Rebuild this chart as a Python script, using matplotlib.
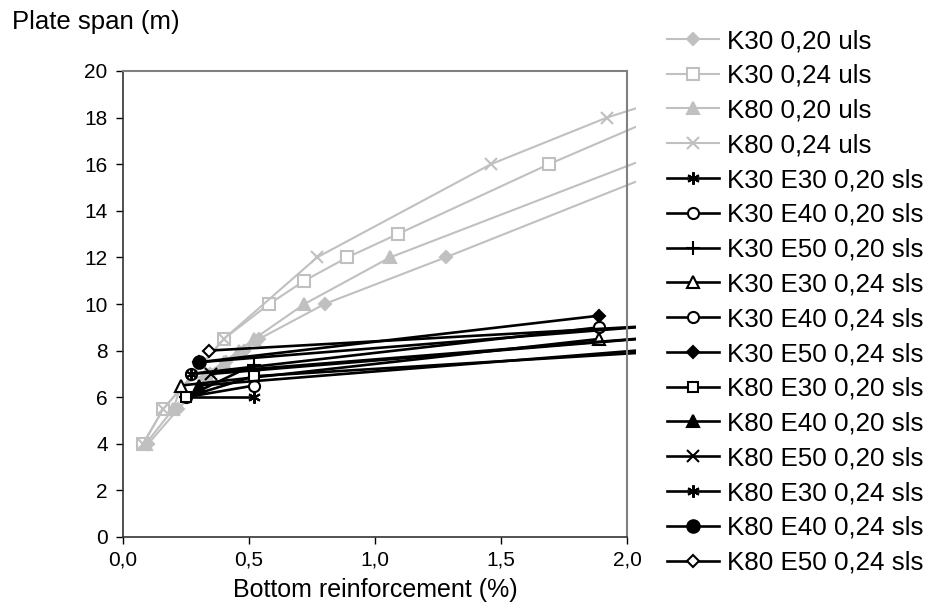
import numpy as np
import matplotlib
matplotlib.use("Agg")
import matplotlib.pyplot as plt
from matplotlib.ticker import FuncFormatter, MultipleLocator
from matplotlib.transforms import Bbox, TransformedBbox

plt.rcParams['font.family'] = ['Liberation Sans', 'DejaVu Sans']

# ultimate limit state curves (grey), last point lies past the x-axis end
k30_020_uls_x = [0.10, 0.22, 0.345, 0.41, 0.48, 0.54, 0.80, 1.28, 2.50]
k30_020_uls_y = [4.0, 5.5, 7.0, 7.5, 8.0, 8.5, 10.0, 12.0, 17.25]
k30_024_uls_x = [0.08, 0.16, 0.40, 0.58, 0.72, 0.89, 1.09, 1.69, 2.40]
k30_024_uls_y = [4.0, 5.5, 8.5, 10.0, 11.0, 12.0, 13.0, 16.0, 19.3]
k80_020_uls_x = [0.09, 0.20, 0.23, 0.33, 0.40, 0.46, 0.52, 0.72, 1.06, 2.50]
k80_020_uls_y = [4.0, 5.5, 6.5, 7.0, 7.5, 8.0, 8.5, 10.0, 12.0, 18.0]
k80_024_uls_x = [0.08, 0.16, 0.40, 0.77, 1.46, 1.92, 2.50]
k80_024_uls_y = [4.0, 5.5, 8.5, 12.0, 16.0, 18.0, 20.0]

# serviceability limit state curves (black)
k30e30_020_x = [0.25, 0.52]
k30e30_020_y = [6.0, 6.0]
k30e40_020_x = [0.25, 0.52]
k30e40_020_y = [6.0, 6.5]
k30e50_020_x = [0.25, 0.52]
k30e50_020_y = [6.0, 7.4]
k30e30_024_x = [0.23, 1.89]
k30e30_024_y = [6.5, 8.5]
k30e40_024_x = [0.27, 1.89]
k30e40_024_y = [7.0, 9.0]
k30e50_024_x = [0.30, 1.89]
k30e50_024_y = [7.5, 9.5]
k80e30_020_x = [0.25, 0.52, 2.50]
k80e30_020_y = [6.0, 6.9, 8.2]
k80e40_020_x = [0.30, 2.50]
k80e40_020_y = [6.5, 8.4]
k80e50_020_x = [0.35, 2.50]
k80e50_020_y = [7.0, 8.9]
k80e30_024_x = [0.27, 2.50]
k80e30_024_y = [7.0, 8.9]
k80e40_024_x = [0.30, 2.50]
k80e40_024_y = [7.5, 9.4]
k80e50_024_x = [0.34, 2.50]
k80e50_024_y = [8.0, 9.3]

grey = '#c0c0c0'
asterisk = (6, 2, 0)

series = [
    (k30_020_uls_x, k30_020_uls_y, "K30 0,20 uls", grey, 'D', grey, 6),
    (k30_024_uls_x, k30_024_uls_y, "K30 0,24 uls", grey, 's', 'white', 8),
    (k80_020_uls_x, k80_020_uls_y, "K80 0,20 uls", grey, '^', grey, 8),
    (k80_024_uls_x, k80_024_uls_y, "K80 0,24 uls", grey, 'x', grey, 8),
    (k30e30_020_x, k30e30_020_y, "K30 E30 0,20 sls", 'black', asterisk, 'black', 9),
    (k30e40_020_x, k30e40_020_y, "K30 E40 0,20 sls", 'black', 'o', 'white', 8),
    (k30e50_020_x, k30e50_020_y, "K30 E50 0,20 sls", 'black', '+', 'black', 10),
    (k30e30_024_x, k30e30_024_y, "K30 E30 0,24 sls", 'black', '^', 'white', 8),
    (k30e40_024_x, k30e40_024_y, "K30 E40 0,24 sls", 'black', 'o', 'white', 8),
    (k30e50_024_x, k30e50_024_y, "K30 E50 0,24 sls", 'black', 'D', 'black', 6),
    (k80e30_020_x, k80e30_020_y, "K80 E30 0,20 sls", 'black', 's', 'white', 7),
    (k80e40_020_x, k80e40_020_y, "K80 E40 0,20 sls", 'black', '^', 'black', 8),
    (k80e50_020_x, k80e50_020_y, "K80 E50 0,20 sls", 'black', 'x', 'black', 8),
    (k80e30_024_x, k80e30_024_y, "K80 E30 0,24 sls", 'black', asterisk, 'black', 9),
    (k80e40_024_x, k80e40_024_y, "K80 E40 0,24 sls", 'black', 'o', 'black', 9),
    (k80e50_024_x, k80e50_024_y, "K80 E50 0,24 sls", 'black', 'D', 'white', 6),
]

fig = plt.figure(figsize=(9.29, 6.08), dpi=100)
ax = fig.add_axes([123 / 929, 1 - 537 / 608, 504 / 929, 466 / 608])

# lines run a few pixels past the right border, like the original
clip = TransformedBbox(Bbox([[0, 0], [1 + 9 / 504, 1]]), ax.transAxes)

for x, y, label, c, m, mfc, ms in series:
    lw = 1.5 if c == grey else 1.9
    line, = ax.plot(x, y, color=c, lw=lw, marker=m, ms=ms, mfc=mfc,
                    mec=c, mew=1.5, label=label)
    line.set_clip_box(clip)

ax.set_xlim(0, 2.0)
ax.set_ylim(0, 20)
ax.xaxis.set_major_locator(MultipleLocator(0.5))
ax.yaxis.set_major_locator(MultipleLocator(2))
ax.xaxis.set_major_formatter(FuncFormatter(lambda v, p: f"{v:.1f}".replace('.', ',')))
ax.tick_params(direction='out', length=5, width=1, labelsize=15, colors='black')
ax.tick_params(axis='x', pad=5)
ax.tick_params(axis='y', pad=6)

for side in ['top', 'right']:
    ax.spines[side].set_color('#808080')
    ax.spines[side].set_linewidth(1.5)
for side in ['left', 'bottom']:
    ax.spines[side].set_color('#333333')
    ax.spines[side].set_linewidth(1.2)

ax.set_xlabel("Bottom reinforcement (%)", fontsize=18, labelpad=6)
fig.text(12 / 929, 1 - 22 / 608, "Plate span (m)", fontsize=18.5, va='center', ha='left')

fig.legend(loc='upper left', bbox_to_anchor=(667 / 929, 1 - 29 / 608),
           frameon=False, fontsize=18.7, handlelength=2.0, handletextpad=0.3,
           labelspacing=0.415, borderpad=0, borderaxespad=0)

fig.savefig('out.png', dpi=100)
